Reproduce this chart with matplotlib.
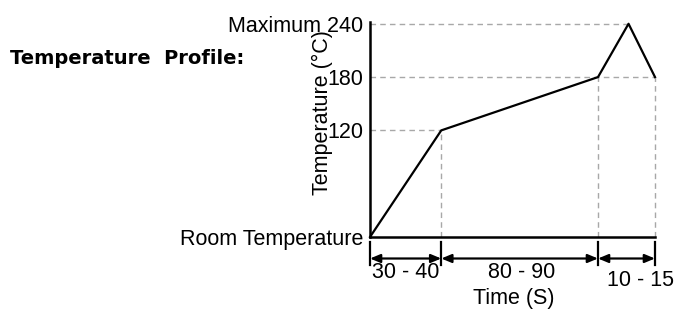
import matplotlib
matplotlib.use("Agg")
import matplotlib.pyplot as plt

# Data (schematic reflow temperature profile, positions)
time_points = [0, 35, 112, 127, 140]          # schematic time axis positions
temp_points = [0, 120, 180, 240, 180]          # room temperature drawn at bottom
y_tick_values = [0, 120, 180, 240]
y_tick_labels = ["Room Temperature", "120", "180", "Maximum 240"]
phase_bounds = [0, 35, 112, 140]
phase_labels = ["30 - 40", "80 - 90", "10 - 15"]

W, H = 674, 318
fig = plt.figure(figsize=(W / 100, H / 100), dpi=100)
left, right, top, bottom = 370, 655, 22, 237
ax = fig.add_axes([left / W, 1 - bottom / H, (right - left) / W, (bottom - top) / H])

font = "Liberation Sans"
fs = 15.5

ax.set_xlim(time_points[0], time_points[-1])
ax.set_ylim(0, 242)

# guide lines
dash = dict(color="#a8a8a8", lw=1.0, ls=(0, (4, 3)), zorder=1, clip_on=False)
ax.plot([0, time_points[1]], [temp_points[1]] * 2, **dash)
ax.plot([0, time_points[4]], [temp_points[2]] * 2, **dash)
ax.plot([0, time_points[3]], [temp_points[3]] * 2, **dash)
ax.plot([time_points[1]] * 2, [0, temp_points[1]], **dash)
ax.plot([time_points[2]] * 2, [0, temp_points[2]], **dash)
ax.plot([time_points[4]] * 2, [0, temp_points[4]], **dash)

ax.plot(time_points, temp_points, color="black", lw=1.6, zorder=3, clip_on=False)

for s in ["top", "right"]:
    ax.spines[s].set_visible(False)
for s in ["left", "bottom"]:
    ax.spines[s].set_linewidth(1.8)
    ax.spines[s].set_color("black")

ax.set_xticks([])
ax.set_yticks(y_tick_values)
ax.set_yticklabels(y_tick_labels, fontsize=fs, family=font)
ax.tick_params(axis="y", length=0, pad=5)

ax.text(-0.168, 0.577, "Temperature (°C)", transform=ax.transAxes, rotation=90,
        ha="center", va="center", fontsize=fs, family=font)

# phase arrows below axis
trans = ax.get_xaxis_transform()
for xb in phase_bounds:
    ax.plot([xb, xb], [-0.023, -0.13], color="black", lw=1.6, transform=trans, clip_on=False)
for i in range(len(phase_labels)):
    x0, x1 = phase_bounds[i], phase_bounds[i + 1]
    ax.annotate("", xy=(x1, -0.1), xytext=(x0, -0.1), xycoords=trans, textcoords=trans,
                arrowprops=dict(arrowstyle="<|-|>,head_length=0.6,head_width=0.25",
                                color="black", lw=1.6, shrinkA=0, shrinkB=0),
                annotation_clip=False)
label_x = [(phase_bounds[0] + phase_bounds[1]) / 2,
           (phase_bounds[1] + phase_bounds[2]) / 2 + 1,
           (phase_bounds[2] + phase_bounds[3]) / 2 + 7]
label_y = [-0.163, -0.163, -0.2]
for i in range(len(phase_labels)):
    ax.text(label_x[i], label_y[i], phase_labels[i], transform=trans, ha="center", va="center",
            fontsize=fs, family=font)

ax.text((phase_bounds[1] + phase_bounds[2]) / 2 - 3, -0.284, "Time (S)", transform=trans,
        ha="center", va="center", fontsize=fs, family=font)

fig.text(10 / W, 1 - 58 / H, "Temperature  Profile:", fontsize=14, fontweight="bold",
         family="DejaVu Sans", ha="left", va="center")

fig.savefig("out.png", dpi=100)
